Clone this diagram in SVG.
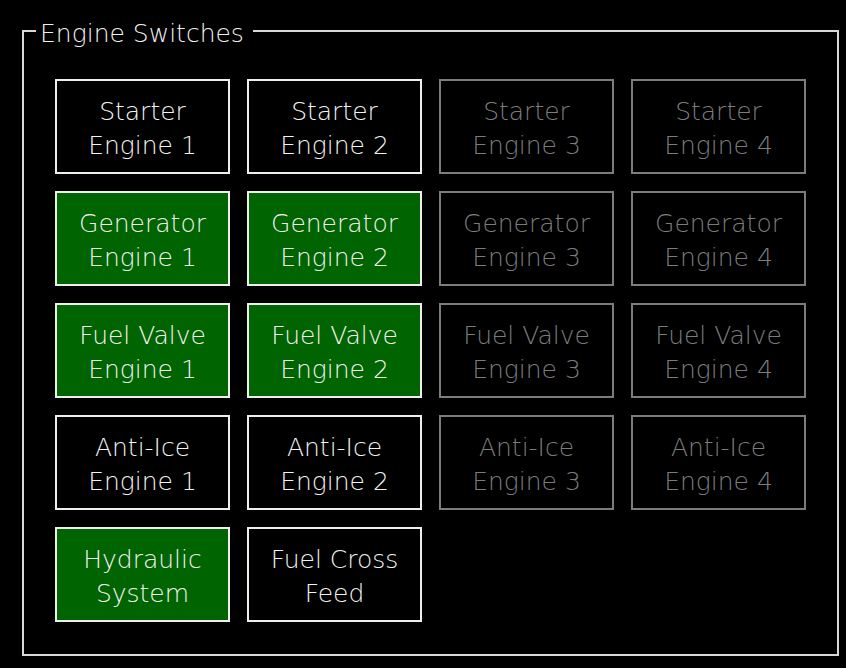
<svg xmlns="http://www.w3.org/2000/svg" width="846" height="668" viewBox="0 0 846 668">
<style>
text{font-family:"DejaVu Sans","Liberation Sans",sans-serif;font-size:25px;font-weight:200;text-anchor:middle}
.on rect{fill:#006400;stroke:#eeeeee;stroke-width:2}
.off rect{fill:#000;stroke:#eeeeee;stroke-width:2}
.dis rect{fill:#000;stroke:#7c7c7c;stroke-width:2}
.on text,.off text{fill:#f2f2f2}
.dis text{fill:#7c7c7c}
</style>
<rect width="846" height="668" fill="#000"/>
<g id="frame">
<path d="M36,31 H23 V655 H838 V31 H253" fill="none" stroke="#d8d8d8" stroke-width="2"/>
<text x="142" y="41.5" style="fill:#f0f0f0">Engine Switches</text>
</g>
<g id="starter1" class="off"><rect x="56" y="80" width="173" height="93"/><text x="142.5" y="119.5">Starter</text><text x="142.5" y="154">Engine 1</text></g>
<g id="starter2" class="off"><rect x="248" y="80" width="173" height="93"/><text x="334.5" y="119.5">Starter</text><text x="334.5" y="154">Engine 2</text></g>
<g id="starter3" class="dis"><rect x="440" y="80" width="173" height="93"/><text x="526.5" y="119.5">Starter</text><text x="526.5" y="154">Engine 3</text></g>
<g id="starter4" class="dis"><rect x="632" y="80" width="173" height="93"/><text x="718.5" y="119.5">Starter</text><text x="718.5" y="154">Engine 4</text></g>

<g id="generator1" class="on"><rect x="56" y="192" width="173" height="93"/><text x="142.5" y="231.5">Generator</text><text x="142.5" y="266">Engine 1</text></g>
<g id="generator2" class="on"><rect x="248" y="192" width="173" height="93"/><text x="334.5" y="231.5">Generator</text><text x="334.5" y="266">Engine 2</text></g>
<g id="generator3" class="dis"><rect x="440" y="192" width="173" height="93"/><text x="526.5" y="231.5">Generator</text><text x="526.5" y="266">Engine 3</text></g>
<g id="generator4" class="dis"><rect x="632" y="192" width="173" height="93"/><text x="718.5" y="231.5">Generator</text><text x="718.5" y="266">Engine 4</text></g>

<g id="fuelvalve1" class="on"><rect x="56" y="304" width="173" height="93"/><text x="142.5" y="343.5">Fuel Valve</text><text x="142.5" y="378">Engine 1</text></g>
<g id="fuelvalve2" class="on"><rect x="248" y="304" width="173" height="93"/><text x="334.5" y="343.5">Fuel Valve</text><text x="334.5" y="378">Engine 2</text></g>
<g id="fuelvalve3" class="dis"><rect x="440" y="304" width="173" height="93"/><text x="526.5" y="343.5">Fuel Valve</text><text x="526.5" y="378">Engine 3</text></g>
<g id="fuelvalve4" class="dis"><rect x="632" y="304" width="173" height="93"/><text x="718.5" y="343.5">Fuel Valve</text><text x="718.5" y="378">Engine 4</text></g>

<g id="antiice1" class="off"><rect x="56" y="416" width="173" height="93"/><text x="142.5" y="455.5">Anti-Ice</text><text x="142.5" y="490">Engine 1</text></g>
<g id="antiice2" class="off"><rect x="248" y="416" width="173" height="93"/><text x="334.5" y="455.5">Anti-Ice</text><text x="334.5" y="490">Engine 2</text></g>
<g id="antiice3" class="dis"><rect x="440" y="416" width="173" height="93"/><text x="526.5" y="455.5">Anti-Ice</text><text x="526.5" y="490">Engine 3</text></g>
<g id="antiice4" class="dis"><rect x="632" y="416" width="173" height="93"/><text x="718.5" y="455.5">Anti-Ice</text><text x="718.5" y="490">Engine 4</text></g>

<g id="hydraulic" class="on"><rect x="56" y="528" width="173" height="93"/><text x="142.5" y="567.5">Hydraulic</text><text x="142.5" y="602">System</text></g>
<g id="crossfeed" class="off"><rect x="248" y="528" width="173" height="93"/><text x="334.5" y="567.5">Fuel Cross</text><text x="334.5" y="602">Feed</text></g>
</svg>
